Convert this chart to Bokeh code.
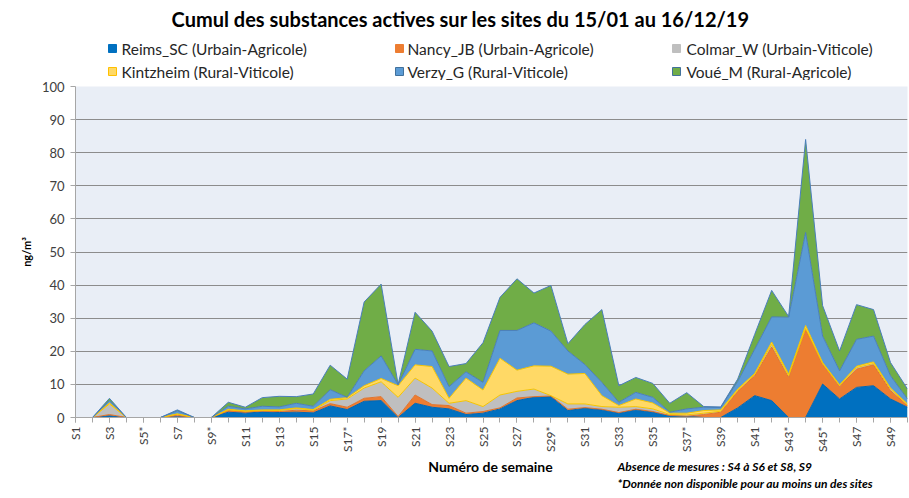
import math
from bokeh.plotting import figure
from bokeh.layouts import column
from bokeh.models import Range1d, FixedTicker, Label, ColumnDataSource
from bokeh.core.properties import value
from bokeh.transform import stack
from bokeh.embed import file_html
from bokeh.resources import INLINE

weeks = list(range(1, 51))
week_labels = ["S1", "S2", "S3", "S4", "S5*", "S6", "S7", "S8", "S9*", "S10",
               "S11", "S12", "S13", "S14", "S15", "S16", "S17*", "S18", "S19", "S20",
               "S21", "S22", "S23", "S24", "S25", "S26", "S27", "S28", "S29*", "S30",
               "S31", "S32", "S33", "S34", "S35", "S36", "S37*", "S38", "S39", "S40",
               "S41", "S42", "S43*", "S44", "S45*", "S46", "S47", "S48", "S49", "S50"]

title_text = "Cumul des substances actives sur les sites du 15/01 au 16/12/19"
site_names = ["Reims_SC (Urbain-Agricole)", "Nancy_JB (Urbain-Agricole)", "Colmar_W (Urbain-Viticole)",
              "Kintzheim (Rural-Viticole)", "Verzy_G (Rural-Viticole)", "Voué_M (Rural-Agricole)"]
x_title = "Numéro de semaine"
notes = ["Absence de mesures : S4 à S6 et S8, S9",
         "*Donnée non disponible pour au moins un des sites"]

reims = [0, 0, 0.5, 0, 0, 0, 0.2, 0, 0, 1.6,
         1.3, 1.7, 1.5, 1.6, 1.4, 3.5, 2.4, 4.9, 5.1, 0,
         4.3, 3.1, 2.6, 0.9, 1.3, 2.6, 5.1, 6.1, 6.3, 2.1,
         2.8, 2.3, 1.3, 2.3, 1.6, 0.5, 0.3, 0, 0, 2.9,
         6.6, 5.1, 0, 0, 10.1, 5.6, 9.1, 9.6, 5.6, 3.1]
nancy = [0, 0, 0.4, 0, 0, 0, 0.5, 0, 0, 0.5,
         0.4, 0.2, 0.3, 0.6, 0.6, 0.7, 0.7, 0.9, 1.2, 0.3,
         2.5, 0.8, 1.0, 0.4, 0.5, 0.3, 0.8, 0.2, 0.2, 0.4,
         0.2, 0.2, 0.2, 0.2, 0.2, 0.1, 0.1, 0.9, 1.6, 5.0,
         6.0, 16.2, 12.1, 26.6, 6.0, 3.7, 5.5, 6.3, 2.5, 0.5]
colmar = [0, 0, 3.2, 0, 0, 0, 0.3, 0, 0, 0.2,
          0.2, 0.2, 0.3, 0.5, 0.2, 0.9, 2.5, 3.1, 4.5, 5.8,
          5.1, 5.0, 0.7, 3.8, 1.5, 3.9, 2.0, 2.3, 0.1, 1.6,
          1.1, 0.8, 1.6, 0.8, 0.8, 0.3, 0.4, 0.4, 0.3, 0.3,
          0.4, 0.8, 0.5, 0.3, 0.2, 0.3, 0.5, 0.4, 0.5, 0.2]
kintzheim = [0, 0, 0.3, 0, 0, 0, 0.1, 0, 0, 0.2,
             0.1, 0.2, 0.2, 0.2, 0.2, 0.4, 0.4, 0.7, 1.0, 3.5,
             4.0, 6.5, 1.5, 6.8, 5.0, 11.1, 6.4, 7.0, 8.9, 9.0,
             9.2, 3.3, 0.5, 2.3, 1.8, 0.4, 0.5, 0.8, 0.4, 0.4,
             0.3, 0.7, 0.5, 0.9, 0.3, 0.3, 0.4, 0.5, 0.3, 0.3]
verzy = [0, 0, 0.7, 0, 0, 0, 0.9, 0, 0, 0.9,
         0.6, 1.1, 0.9, 1.4, 1.0, 2.9, 0.1, 4.5, 6.8, 0.3,
         4.7, 4.7, 3.5, 1.9, 2.3, 8.4, 12.0, 13.0, 10.6, 7.0,
         2.7, 4.0, 1.0, 2.0, 1.7, 0.3, 1.3, 1.0, 0.7, 2.3,
         7.3, 7.6, 17.2, 28.1, 8.0, 4.2, 8.1, 7.8, 3.7, 1.5]
voue = [0, 0, 0.7, 0, 0, 0, 0.3, 0, 0, 1.2,
        0.5, 2.6, 3.2, 2.0, 3.7, 7.4, 5.5, 20.8, 21.7, 0.1,
        11.2, 6.0, 6.1, 2.5, 12.0, 10.0, 15.6, 9.0, 13.8, 2.2,
        12.1, 22.0, 5.0, 4.5, 4.2, 2.7, 4.9, 0.2, 0.2, 0.7,
        4.5, 8.0, 0.2, 28.1, 9.2, 6.0, 10.5, 8.0, 4.0, 3.0]

fill_colors = ["#0070C0", "#ED7D31", "#BFBFBF", "#FFD966", "#5B9BD5", "#70AD47"]
edge_colors = ["#0066B3", "#E0742C", "#F5C400", "#F5C400", "#4A7EBB", "#4A7EBB"]
legend_edges = ["#0070C0", "#ED7D31", "#BFBFBF", "#FFC000", "#41719C", "#41719C"]
keys = ["reims", "nancy", "colmar", "kintzheim", "verzy", "voue"]

FONT = "Lato"
TXT = "#404040"
W = 909
FRAME_L, FRAME_R = 75, 907   # the column aligns every frame on the chart's plot area


def blank_panel(height):
    f = figure(width=W, height=height, output_backend="svg", toolbar_location=None, title=None,
               x_range=Range1d(FRAME_L, FRAME_R), y_range=Range1d(height, 0),
               x_axis_type=None, y_axis_type=None,
               min_border=0, min_border_left=FRAME_L, min_border_right=W - FRAME_R,
               background_fill_color="white", border_fill_color="white")
    f.outline_line_color = None
    f.grid.visible = False
    return f


# ---------- header: title + legend ----------
header = blank_panel(80)
header.add_layout(Label(x=460, y=18, text=title_text, text_align="center", text_baseline="middle",
                        text_font=FONT, text_font_size="20px", text_font_style="bold",
                        text_color="black"))
col_sq = [112, 399, 676]
col_tx = [121, 407, 686]
row_y = [48, 71]
leg_src = ColumnDataSource(dict(
    sx=[col_sq[i % 3] for i in range(6)],
    tx=[col_tx[i % 3] for i in range(6)],
    y=[row_y[i // 3] for i in range(6)],
    name=site_names, fill=fill_colors, edge=legend_edges))
header.rect(x="sx", y="y", width=8, height=8, fill_color="fill", line_color="edge",
            line_width=1, source=leg_src)
header.text(x="tx", y="y", text="name", text_baseline="middle", text_align="left",
            text_font=value(FONT), text_font_size="15.5px", text_color="#262626", source=leg_src)

# ---------- main chart ----------
src = ColumnDataSource(dict(week=weeks, reims=reims, nancy=nancy, colmar=colmar,
                            kintzheim=kintzheim, verzy=verzy, voue=voue))

p = figure(width=W, height=375, output_backend="svg", toolbar_location=None, title=None,
           x_range=Range1d(1, 50), y_range=Range1d(0, 100),
           min_border_left=FRAME_L, min_border_right=W - FRAME_R, min_border_top=6, min_border_bottom=38,
           background_fill_color="#E9EEF6", border_fill_color="white")
p.outline_line_color = None

areas = p.varea_stack(stackers=keys, x="week", color=fill_colors, source=src)
for i in range(len(keys)):
    p.line(x="week", y=stack(*keys[:i + 1]), line_color=edge_colors[i], line_width=1, source=src)

p.yaxis.ticker = FixedTicker(ticks=list(range(0, 101, 10)))
p.yaxis.major_tick_out = 5
p.yaxis.major_tick_in = 0
p.yaxis.minor_tick_out = 0
p.yaxis.minor_tick_in = 0
p.yaxis.axis_line_color = "#A6A6A6"
p.yaxis.major_tick_line_color = "#A6A6A6"
p.yaxis.major_label_text_font = FONT
p.yaxis.major_label_text_font_size = "13px"
p.yaxis.major_label_text_color = TXT
p.yaxis.major_label_standoff = 6
p.yaxis.axis_label = "ng/m³"
p.yaxis.axis_label_text_font = FONT
p.yaxis.axis_label_text_font_size = "11px"
p.yaxis.axis_label_text_font_style = "bold"
p.yaxis.axis_label_text_color = "black"
p.yaxis.axis_label_standoff = 6

odd_weeks = [w for w in weeks if w % 2 == 1]
p.xaxis.ticker = FixedTicker(ticks=odd_weeks, minor_ticks=weeks)
p.xaxis.major_label_overrides = {w: lab for w, lab in zip(weeks, week_labels) if w % 2 == 1}
p.xaxis.major_label_orientation = math.pi / 2
p.xaxis.major_tick_out = 5
p.xaxis.major_tick_in = 0
p.xaxis.minor_tick_out = 5
p.xaxis.minor_tick_in = 0
p.xaxis.axis_line_color = "#A6A6A6"
p.xaxis.major_tick_line_color = "#A6A6A6"
p.xaxis.minor_tick_line_color = "#A6A6A6"
p.xaxis.major_label_text_font = FONT
p.xaxis.major_label_text_font_size = "12px"
p.xaxis.major_label_text_color = TXT
p.xaxis.major_label_standoff = 4

p.xgrid.grid_line_color = None
p.ygrid.grid_line_color = "#8C8C8C"
p.ygrid.grid_line_width = 1

# ---------- footer: x title + notes ----------
footer = blank_panel(43)
footer.add_layout(Label(x=490, y=11, text=x_title, text_align="center", text_baseline="middle",
                        text_font=FONT, text_font_size="14px", text_font_style="bold",
                        text_color="black"))
for yy, t in zip([11, 28], notes):
    footer.add_layout(Label(x=617, y=yy, text=t, text_align="left", text_baseline="middle",
                            text_font=FONT, text_font_size="12px", text_font_style="bold italic",
                            text_color="black"))

layout = column(header, p, footer, spacing=0)
open("out.html", "w").write(file_html(layout, INLINE))
